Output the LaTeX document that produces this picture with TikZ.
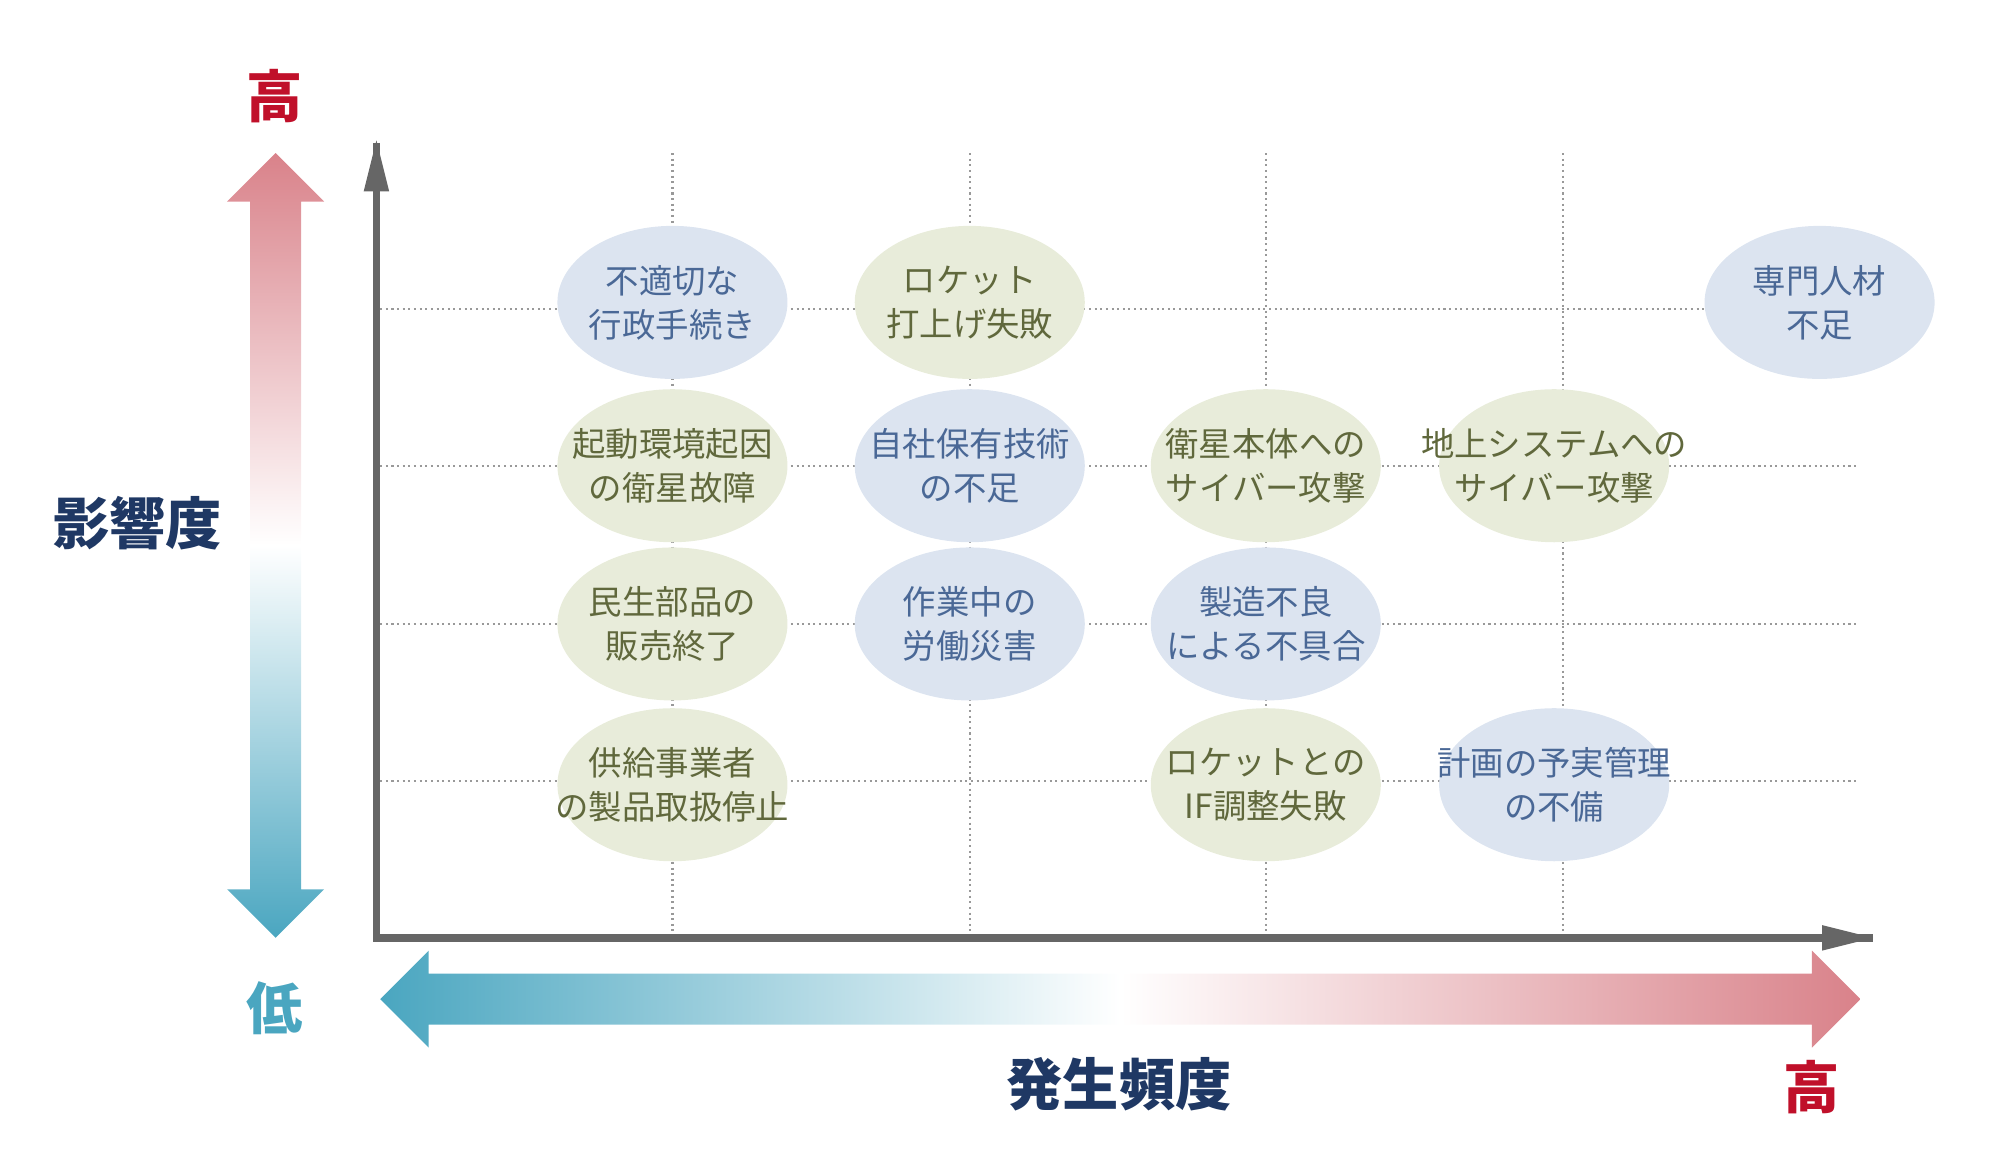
\documentclass[tikz,border=0pt]{standalone}
\usepackage{fontspec}
\setmainfont{Noto Sans CJK JP}
\usetikzlibrary{shapes.geometric}
\usetikzlibrary{calc}
\definecolor{blue1}{RGB}{220, 228, 240}
\definecolor{green1}{RGB}{232, 236, 218}
\definecolor{bluetxt}{RGB}{74, 104, 150}
\definecolor{greentxt}{RGB}{96, 104, 60}
\definecolor{red1}{RGB}{217, 130, 138}
\definecolor{teal1}{RGB}{74, 166, 192}
\definecolor{navy1}{RGB}{31, 56, 100}
\definecolor{high1}{RGB}{192, 16, 42}

\tikzset{
  risk/.style={ellipse, minimum width=2.3cm, minimum height=1.53cm, inner sep=0pt},
  riskb/.style={risk, fill=blue1},
  riskg/.style={risk, fill=green1},
  risktxt/.style={align=center, inner sep=0pt, font=\fontsize{9.5}{12.5}\selectfont},
  gridline/.style={densely dotted, gray!80, line width=0.6pt}
}

\begin{document}
\begin{tikzpicture}[x=0.01276cm, y=-0.01276cm]
\useasboundingbox (0,0) rectangle (1567.4,903.6);
  % grid
  \foreach \gx in {527,760,992,1225}
   \draw[gridline] (\gx,120) -- (\gx,735);
  \foreach \gy in {242,365,489,612}
   \draw[gridline] (298,\gy) -- (1455,\gy);

  % axes
  \coordinate (o) at (295,735);
  \coordinate (ytop) at (295,112);
  \coordinate (xend) at (1468,735);
  \draw[gray!80!black, line width=2.2pt] (ytop) -- (o) -- (xend);
  \fill[gray!80!black] (295,110) -- (285,150) -- (305,150) -- cycle;
  \fill[gray!80!black] (1468,735) -- (1428,725) -- (1428,745) -- cycle;

  % gradient arrows
  \shade[top color=red1, bottom color=teal1, middle color=white]
   (216,120) -- (254,158) -- (236,158) -- (236,697) -- (254,697) -- (216,735)
   -- (178,697) -- (196,697) -- (196,158) -- (178,158) -- cycle;
  \shade[left color=teal1, right color=red1, middle color=white]
   (298,783) -- (336,745) -- (336,763) -- (1420,763) -- (1420,745) -- (1458,783)
   -- (1420,821) -- (1420,803) -- (336,803) -- (336,821) -- cycle;

  % labels
  \node[text=high1, font=\fontsize{16}{16}\selectfont\bfseries] (yhigh) at (215,75) {高};
  \node[text=teal1, font=\fontsize{16}{16}\selectfont\bfseries] (ylow) at (215,790) {低};
  \node[text=navy1, font=\fontsize{16}{16}\selectfont\bfseries] (ylabel) at (108,410) {影響度};
  \node[text=navy1, font=\fontsize{16}{16}\selectfont\bfseries] (xlabel) at (877,850) {発生頻度};
  \node[text=high1, font=\fontsize{16}{16}\selectfont\bfseries] (xhigh) at (1420,852) {高};

  % risks
  \node[riskb] (r11) at (527,237) {};
  \node[riskg] (r12) at (760,237) {};
  \node[riskb] (r15) at (1426,237) {};
  \node[riskg] (r21) at (527,365) {};
  \node[riskb] (r22) at (760,365) {};
  \node[riskg] (r23) at (992,365) {};
  \node[riskg] (r24) at (1218,365) {};
  \node[riskg] (r31) at (527,489) {};
  \node[riskb] (r32) at (760,489) {};
  \node[riskb] (r33) at (992,489) {};
  \node[riskg] (r41) at (527,615) {};
  \node[riskg] (r43) at (992,615) {};
  \node[riskb] (r44) at (1218,615) {};

  \node[risktxt, text=bluetxt] (t11) at (r11) {不適切な\\行政手続き};
  \node[risktxt, text=greentxt] (t12) at (r12) {ロケット\\打上げ失敗};
  \node[risktxt, text=bluetxt] (t15) at (r15) {専門人材\\不足};
  \node[risktxt, text=greentxt] (t21) at (r21) {起動環境起因\\の衛星故障};
  \node[risktxt, text=bluetxt] (t22) at (r22) {自社保有技術\\の不足};
  \node[risktxt, text=greentxt] (t23) at (r23) {衛星本体への\\サイバー攻撃};
  \node[risktxt, text=greentxt] (t24) at (r24) {地上システムへの\\サイバー攻撃};
  \node[risktxt, text=greentxt] (t31) at (r31) {民生部品の\\販売終了};
  \node[risktxt, text=bluetxt] (t32) at (r32) {作業中の\\労働災害};
  \node[risktxt, text=bluetxt] (t33) at (r33) {製造不良\\による不具合};
  \node[risktxt, text=greentxt] (t41) at (r41) {供給事業者\\の製品取扱停止};
  \node[risktxt, text=greentxt] (t43) at (r43) {ロケットとの\\IF調整失敗};
  \node[risktxt, text=bluetxt] (t44) at (r44) {計画の予実管理\\の不備};
\end{tikzpicture}
\end{document}
